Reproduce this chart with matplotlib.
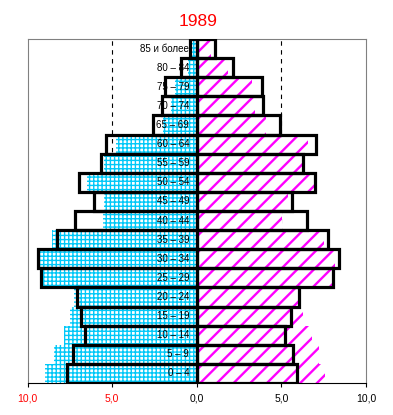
import matplotlib
matplotlib.use("Agg")
import matplotlib.pyplot as plt
import numpy as np

plt.rcParams['font.family'] = ['Liberation Sans', 'DejaVu Sans']

ages = ["0 – 4", "5 – 9", "10 – 14", "15 – 19", "20 – 24", "25 – 29", "30 – 34",
        "35 – 39", "40 – 44", "45 – 49", "50 – 54", "55 – 59", "60 – 64",
        "65 – 69", "70 – 74", "75 – 79", "80 – 84", "85 и более"]

# outlined bars (1989)
male_1989 = [7.65, 7.30, 6.61, 6.82, 7.08, 9.19, 9.37, 8.26, 7.22, 6.07, 6.98,
             5.68, 5.38, 2.60, 2.03, 1.85, 0.91, 0.37]
female_1989 = [5.94, 5.70, 5.23, 5.58, 6.06, 8.05, 8.40, 7.75, 6.49, 5.62, 6.96,
               6.25, 7.02, 4.91, 3.93, 3.87, 2.13, 1.07]

# hatched bars (comparison)
male_hatch = [8.99, 8.46, 7.87, 7.51, 7.28, 9.29, 9.43, 8.54, 5.54, 5.50, 6.49,
              5.48, 4.75, 2.00, 1.50, 1.26, 0.51, 0.26]
female_hatch = [7.57, 7.24, 6.78, 6.29, 6.13, 7.99, 8.17, 7.51, 5.05, 5.40, 6.96,
                6.25, 6.59, 4.12, 3.45, 3.27, 1.85, 0.87]

xticks = [-10, -5, 0, 5, 10]
xticklabels = ["10,0", "5,0", "0,0", "5,0", "10,0"]
title = "1989"

fig = plt.figure(figsize=(3.93, 4.15), dpi=100)
ax = fig.add_axes([27.5/393, 1-383/415, (366-27.5)/393, (383-39)/415])

y = np.arange(len(ages))
cyan = "#00C8F8"
magenta = "#FF00FF"

ax.axvline(-5, color="black", lw=0.8, ls=(0, (4, 4)), zorder=1)
ax.axvline(5, color="black", lw=0.8, ls=(0, (4, 4)), zorder=1)

mb = ax.barh(y, [-v for v in male_hatch], height=1.0, left=0, color="white",
             edgecolor=cyan, linewidth=0, hatch="++++", zorder=2)
fb = ax.barh(y, female_hatch, height=1.0, left=0, color="white",
             edgecolor=magenta, linewidth=0, hatch="//", zorder=2)
for p in mb:
    try:
        p.set_hatch_linewidth(1.0)
    except Exception:
        pass
for p in fb:
    try:
        p.set_hatch_linewidth(1.7)
    except Exception:
        pass

ax.barh(y, [-v for v in male_1989], height=1.0, left=0, facecolor="none",
        edgecolor="black", linewidth=2.3, zorder=3)
ax.barh(y, female_1989, height=1.0, left=0, facecolor="none",
        edgecolor="black", linewidth=2.3, zorder=3)

for yi, lab in zip(y, ages):
    ax.text(-0.45, yi, lab, ha="right", va="center", fontsize=7.0,
            color="black", zorder=5)

ax.set_xlim(-10, 10)
ax.set_ylim(-0.5, len(ages) - 0.5)
ax.set_yticks([])
ax.set_xticks(xticks)
ax.set_xticklabels(xticklabels, fontsize=7.5)
for i, t in enumerate(ax.get_xticklabels()):
    t.set_color("red" if i < 2 else "black")
ax.tick_params(axis="x", direction="out", length=3, width=0.8, color="black", pad=4.5)

for s in ["left", "right", "top"]:
    ax.spines[s].set_color("#808080")
    ax.spines[s].set_linewidth(0.8)
ax.spines["bottom"].set_color("black")
ax.spines["bottom"].set_linewidth(0.8)

fig.text(198/393, 1-21/415, title, ha="center", va="center", fontsize=12.5, color="red")

fig.savefig("out.png", dpi=100)
